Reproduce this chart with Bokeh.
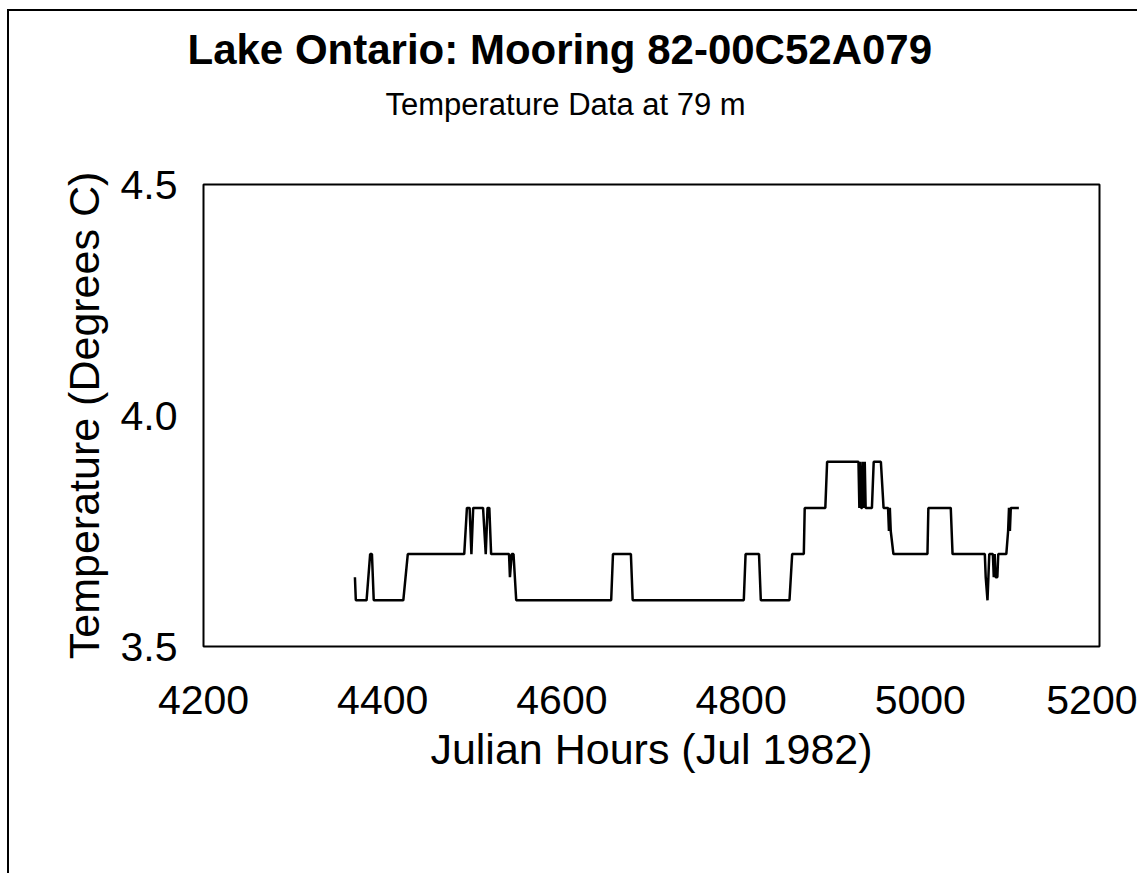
from bokeh.plotting import figure
from bokeh.models import Range1d, FixedTicker, Title, NumeralTickFormatter
from bokeh.embed import file_html
from bokeh.resources import INLINE

# Julian hours and temperatures (degrees C)
hours = [4369, 4370, 4382, 4386, 4388, 4390,
         4423, 4428,
         4491, 4494, 4497, 4499, 4501, 4512, 4515, 4517, 4519, 4521,
         4541, 4542, 4544, 4546, 4549,
         4655, 4657, 4677, 4679,
         4803, 4805, 4820, 4822,
         4854, 4857, 4870, 4871, 4894, 4896,
         4931, 4932, 4933, 4934, 4935, 4936, 4937, 4938, 4939,
         4946, 4948, 4956, 4959, 4964, 4965, 4966, 4967, 4970,
         5008, 5009, 5034, 5036,
         5072, 5073, 5075, 5076, 5077, 5081, 5082, 5083, 5084, 5086, 5087,
         5096, 5098, 5099, 5100, 5101, 5110]
temps = [3.65, 3.60, 3.60, 3.70, 3.70, 3.60,
         3.60, 3.70,
         3.70, 3.80, 3.80, 3.70, 3.80, 3.80, 3.70, 3.80, 3.80, 3.70,
         3.70, 3.65, 3.70, 3.70, 3.60,
         3.60, 3.70, 3.70, 3.60,
         3.60, 3.70, 3.70, 3.60,
         3.60, 3.70, 3.70, 3.80, 3.80, 3.90,
         3.90, 3.80, 3.90, 3.80, 3.80, 3.90, 3.80, 3.90, 3.80,
         3.80, 3.90, 3.90, 3.80, 3.80, 3.75, 3.80, 3.75, 3.70,
         3.70, 3.80, 3.80, 3.70,
         3.70, 3.65, 3.60, 3.65, 3.70, 3.70, 3.65, 3.70, 3.65, 3.65, 3.70,
         3.70, 3.75, 3.80, 3.75, 3.80, 3.80]

x_ticks = [4200, 4400, 4600, 4800, 5000, 5200]
y_ticks = [3.5, 4.0, 4.5]

title_text = "Lake Ontario: Mooring 82-00C52A079"
subtitle_text = "Temperature Data at 79 m"
x_label = "Julian Hours (Jul 1982)"
y_label = "Temperature (Degrees C)"

FONT = "Liberation Sans"

p = figure(width=1130, height=864, output_backend="svg", toolbar_location=None,
           x_range=Range1d(4200, 5200), y_range=Range1d(3.5, 4.5),
           min_border_left=194, min_border_right=40,
           min_border_top=172, min_border_bottom=229,
           background_fill_color="white", border_fill_color="white")
p.grid.visible = False
p.outline_line_color = "black"
p.outline_line_width = 2
p.outline_line_alpha = 1.0

p.line(hours, temps, line_color="black", line_width=2.5)

for ax in (p.xaxis[0], p.yaxis[0]):
    ax.axis_line_color = None
    ax.major_tick_line_color = None
    ax.minor_tick_line_color = None
    ax.major_tick_out = 0
    ax.major_tick_in = 0
    ax.minor_tick_out = 0
    ax.minor_tick_in = 0
    ax.major_label_text_font = FONT
    ax.major_label_text_font_size = "41px"
    ax.major_label_text_color = "black"
    ax.axis_label_text_font = FONT
    ax.axis_label_text_font_size = "43px"
    ax.axis_label_text_font_style = "normal"
    ax.axis_label_text_color = "black"

p.xaxis.ticker = FixedTicker(ticks=x_ticks)
p.yaxis.ticker = FixedTicker(ticks=y_ticks)
p.yaxis.formatter = NumeralTickFormatter(format="0.0")
p.xaxis.axis_label = x_label
p.yaxis.axis_label = y_label
p.xaxis.major_label_standoff = 39
p.xaxis.axis_label_standoff = 8
p.yaxis.major_label_standoff = 26
p.yaxis.axis_label_standoff = 10

# stacked upward from the frame: spacer, subtitle, title
p.add_layout(Title(text=" ", text_font_size="1px", standoff=60,
                   text_color="white"), "above")
p.add_layout(Title(text=subtitle_text, align="left", offset=182, standoff=0,
                   text_font=FONT, text_font_style="normal",
                   text_font_size="31px", text_color="black"), "above")
p.add_layout(Title(text=title_text, align="left", offset=-16, standoff=24,
                   text_font=FONT, text_font_style="bold",
                   text_font_size="42px", text_color="black"), "above")

# page border of the scanned sheet (left and top edges)
p.styles = {"margin-left": "7px", "margin-top": "9px",
            "border-left": "2px solid black", "border-top": "2px solid black"}

open("out.html", "w").write(file_html(p, INLINE))
